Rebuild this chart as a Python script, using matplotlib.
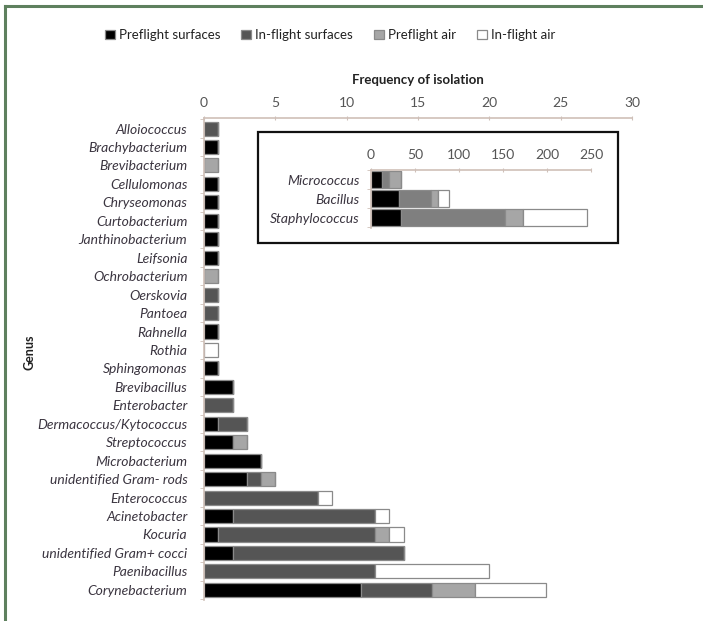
import numpy as np
import matplotlib
matplotlib.use("Agg")
from matplotlib import pyplot as plt
from matplotlib.patches import Rectangle
from matplotlib.lines import Line2D

# data
genera = [
    "Alloiococcus", "Brachybacterium", "Brevibacterium", "Cellulomonas",
    "Chryseomonas", "Curtobacterium", "Janthinobacterium", "Leifsonia",
    "Ochrobacterium", "Oerskovia", "Pantoea", "Rahnella", "Rothia",
    "Sphingomonas", "Brevibacillus", "Enterobacter", "Dermacoccus/Kytococcus",
    "Streptococcus", "Microbacterium", "unidentified Gram- rods",
    "Enterococcus", "Acinetobacter", "Kocuria", "unidentified Gram+ cocci",
    "Paenibacillus", "Corynebacterium",
]
preflight_surfaces = [0, 1, 0, 1, 1, 1, 1, 1, 0, 0, 0, 1, 0, 1, 2, 0, 1, 2, 4, 3, 0, 2, 1, 2, 0, 11]
inflight_surfaces = [1, 0, 0, 0, 0, 0, 0, 0, 0, 1, 1, 0, 0, 0, 0, 2, 2, 0, 0, 1, 8, 10, 11, 12, 12, 5]
preflight_air = [0, 0, 1, 0, 0, 0, 0, 0, 1, 0, 0, 0, 0, 0, 0, 0, 0, 1, 0, 1, 0, 0, 1, 0, 0, 3]
inflight_air = [0, 0, 0, 0, 0, 0, 0, 0, 0, 0, 0, 0, 1, 0, 0, 0, 0, 0, 0, 0, 1, 1, 1, 0, 8, 5]

inset_genera = ["Micrococcus", "Bacillus", "Staphylococcus"]
inset_ps = [12, 32, 34]
inset_is = [8, 36, 118]
inset_pa = [14, 8, 21]
inset_ia = [0, 13, 72]

series_names = ["Preflight surfaces", "In-flight surfaces", "Preflight air", "In-flight air"]
colors = ["#000000", "#555555", "#a6a6a6", "#ffffff"]
inset_colors = ["#000000", "#7f7f7f", "#a6a6a6", "#ffffff"]
edge = "#8a8a8a"
label_col = "#3b3540"
tick_col = "#555555"
axis_col = "#cfc0b8"

plt.rcParams["font.family"] = ["Lato", "DejaVu Sans"]

fig = plt.figure(figsize=(7.03, 6.21), dpi=100)

# green frame (left and top only)
fig.add_artist(Line2D([5 / 703, 5 / 703], [0, 1 - 6 / 621], transform=fig.transFigure,
                      color="#5e805e", lw=2.2))
fig.add_artist(Line2D([5 / 703, 1], [1 - 6 / 621, 1 - 6 / 621], transform=fig.transFigure,
                      color="#5e805e", lw=2.2))

ax = fig.add_axes([204 / 703, 1 - 600 / 621, 428 / 703, 482 / 621])
y = np.arange(len(genera))
left = np.zeros(len(genera))
for vals, c, name in zip([preflight_surfaces, inflight_surfaces, preflight_air, inflight_air],
                         colors, series_names):
    vals = np.array(vals, dtype=float)
    ax.barh(y, vals, left=left, height=0.76, color=c, edgecolor=edge, linewidth=0.9, label=name)
    left += vals

ax.set_xlim(0, 30)
ax.set_ylim(len(genera) - 0.45, -0.57)
ax.xaxis.tick_top()
ax.xaxis.set_label_position("top")
ax.set_xticks(np.arange(0, 31, 5))
ax.set_xlabel("Frequency of isolation", fontsize=9.5, fontweight="bold", color="#222222", labelpad=9)
ax.set_yticks(y)
ax.set_yticklabels(genera, fontsize=10, style="italic", color=label_col)
ax.set_yticks(np.arange(-0.5, len(genera)), minor=True)
ax.tick_params(axis="y", which="major", length=0, pad=12)
ax.tick_params(axis="y", which="minor", length=3, color=axis_col, direction="out")
ax.tick_params(axis="x", length=3, color=axis_col, labelsize=10, labelcolor=tick_col, direction="inout", pad=5)
for s in ["right", "bottom"]:
    ax.spines[s].set_visible(False)
for s in ["left", "top"]:
    ax.spines[s].set_color(axis_col)
    ax.spines[s].set_linewidth(1.2)

fig.text(30 / 703, 1 - 352 / 621, "Genus", rotation=90, fontsize=9, fontweight="bold",
         color="#222222", ha="center", va="center")

# inset box
fig.add_artist(Rectangle((258 / 703, 1 - 243 / 621), 360 / 703, 111 / 621,
                         transform=fig.transFigure, fill=False, edgecolor="#111111", lw=1.6))

axi = fig.add_axes([371 / 703, 1 - 228 / 621, 220 / 703, 58 / 621])
yi = np.arange(len(inset_genera))
lefti = np.zeros(len(inset_genera))
for vals, c in zip([inset_ps, inset_is, inset_pa, inset_ia], inset_colors):
    vals = np.array(vals, dtype=float)
    axi.barh(yi, vals, left=lefti, height=0.85, color=c, edgecolor=edge, linewidth=0.9)
    lefti += vals
axi.set_xlim(0, 250)
axi.set_ylim(2.55, -0.5)
axi.xaxis.tick_top()
axi.set_xticks(np.arange(0, 251, 50))
axi.set_yticks(yi)
axi.set_yticklabels(inset_genera, fontsize=10, style="italic", color=label_col)
axi.set_yticks(np.arange(-0.5, 3), minor=True)
axi.tick_params(axis="y", which="major", length=0, pad=8)
axi.tick_params(axis="y", which="minor", length=3, color=axis_col)
axi.tick_params(axis="x", length=3, color=axis_col, labelsize=10, labelcolor=tick_col, direction="inout", pad=5)
axi.patch.set_alpha(0)
for s in ["right", "bottom"]:
    axi.spines[s].set_visible(False)
for s in ["left", "top"]:
    axi.spines[s].set_color(axis_col)
    axi.spines[s].set_linewidth(1.2)

handles, labels = ax.get_legend_handles_labels()
fig.legend(handles, labels, loc="center", bbox_to_anchor=(330 / 703, 1 - 35 / 621), ncol=4,
           frameon=False, fontsize=9.5, handlelength=0.75, handleheight=0.75,
           handletextpad=0.3, columnspacing=1.6, labelcolor="#222222")

fig.savefig("out.png", dpi=100, facecolor="white")
